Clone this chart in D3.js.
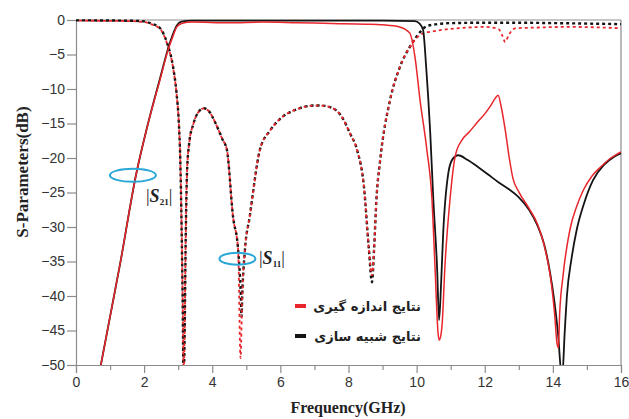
<!DOCTYPE html>
<html><head><meta charset="utf-8">
<script src="https://cdn.jsdelivr.net/npm/d3@7"></script>
<style>body{margin:0;background:#fff}svg{display:block}</style>
</head><body><svg id="c" width="629" height="419"></svg>
<script>
// ---- data ----
const xTicks = [0,2,4,6,8,10,12,14,16];
const xMinor = [1,3,5,7,9,11,13,15];
const yTicks = [0,-5,-10,-15,-20,-25,-30,-35,-40,-45,-50];

const s21Sim = [[0.73,-50],[1.0,-43],[1.3,-35.2],[1.76,-22.5],[2.1,-15.3],[2.47,-8.4],[2.7,-4.2],[2.85,-2.0],[2.96,-0.8],[3.1,-0.25],[3.4,-0.1],[5,-0.1],[7,-0.1],[9,-0.1],[9.95,-0.15],[10.08,-0.5],[10.19,-1.45],[10.28,-6.8],[10.4,-16.4],[10.49,-26],[10.6,-35.8],[10.66,-43.5],[10.72,-38],[10.78,-30.9],[10.93,-22.2],[11.05,-20.2],[11.22,-19.6],[11.5,-20.3],[11.8,-21.3],[12.1,-22.4],[12.4,-23.5],[12.7,-24.5],[13.0,-25.7],[13.3,-27.5],[13.55,-29.8],[13.75,-32.6],[13.92,-36.7],[14.05,-41],[14.15,-45.4],[14.27,-52],[14.35,-45],[14.41,-40.1],[14.55,-34.5],[14.7,-30.4],[14.9,-26.8],[15.18,-23.2],[15.5,-21],[15.8,-19.8],[16,-19.3]];

const s21Meas = [[0.73,-50],[1.0,-43],[1.3,-35.2],[1.76,-22.5],[2.1,-15.3],[2.47,-8.6],[2.7,-4.4],[2.85,-2.3],[2.96,-1.0],[3.1,-0.5],[3.4,-0.3],[4.5,-0.4],[5.5,-0.3],[6.5,-0.4],[7.5,-0.5],[8.5,-0.6],[9.0,-0.7],[9.5,-1.0],[9.8,-1.9],[9.95,-5.3],[10.1,-11.6],[10.3,-18.8],[10.45,-26],[10.54,-35.8],[10.63,-45.4],[10.66,-46.4],[10.7,-46],[10.75,-44],[10.83,-35.8],[10.98,-26],[11.13,-19.8],[11.33,-17.4],[11.55,-16.2],[11.77,-14.9],[12.0,-13.6],[12.15,-12.6],[12.3,-11.4],[12.39,-10.9],[12.48,-12.5],[12.6,-15.9],[12.72,-20],[12.83,-23.0],[13.0,-24.9],[13.3,-27.3],[13.55,-29.6],[13.72,-32.2],[13.85,-35],[13.95,-38],[14.05,-42.5],[14.12,-46.8],[14.16,-47.5],[14.2,-42.5],[14.3,-37],[14.5,-30.4],[14.7,-27],[14.9,-24.6],[15.15,-22.6],[15.4,-21.3],[15.7,-20],[16,-19.1]];

const s11Sim = [[0,-0.05],[1.5,-0.1],[2.0,-0.2],[2.2,-0.5],[2.47,-1.2],[2.67,-3.3],[2.85,-6.8],[2.95,-10.5],[3.02,-15],[3.06,-20],[3.1,-30],[3.13,-40],[3.16,-52],[3.19,-45],[3.22,-32],[3.26,-22],[3.32,-18],[3.45,-15],[3.6,-13.3],[3.75,-12.8],[3.9,-13.2],[4.1,-15],[4.3,-17.3],[4.43,-18.8],[4.61,-28.5],[4.76,-33.3],[4.84,-40],[4.86,-43],[4.88,-40],[4.96,-33.3],[5.1,-28.5],[5.4,-18.8],[5.7,-16],[6.0,-14.3],[6.5,-12.9],[7.0,-12.4],[7.2,-12.4],[7.5,-12.7],[7.8,-14],[8.05,-16.5],[8.25,-18.8],[8.45,-24],[8.6,-33.3],[8.69,-38],[8.75,-33.3],[8.82,-26],[8.93,-20.3],[9.22,-11.6],[9.51,-6.8],[9.8,-3.9],[10.0,-2.4],[10.3,-0.9],[10.6,-0.6],[11,-0.45],[12,-0.4],[13,-0.4],[14,-0.45],[16,-0.6]];

const s11Meas = [[0,-0.1],[1.5,-0.15],[2.0,-0.3],[2.2,-0.6],[2.47,-1.3],[2.67,-3.4],[2.85,-6.9],[2.95,-10.6],[3.02,-15],[3.06,-20],[3.1,-30],[3.13,-40],[3.16,-52],[3.19,-45],[3.22,-32],[3.26,-22],[3.32,-18],[3.45,-15],[3.6,-13.3],[3.75,-12.8],[3.9,-13.2],[4.1,-15],[4.3,-17.3],[4.43,-18.8],[4.61,-28.5],[4.76,-33.3],[4.83,-49],[4.88,-40],[4.96,-33.3],[5.1,-28.5],[5.4,-18.8],[5.7,-16],[6.0,-14.3],[6.5,-12.9],[7.0,-12.4],[7.2,-12.4],[7.5,-12.7],[7.8,-14],[8.05,-16.5],[8.25,-18.8],[8.45,-24],[8.6,-33.3],[8.69,-37],[8.75,-33.3],[8.82,-26],[8.93,-20.3],[9.22,-11.6],[9.51,-6.8],[9.8,-3.9],[10.0,-2.6],[10.2,-1.9],[10.4,-1.7],[10.8,-1.4],[11.5,-1.1],[12.0,-1.0],[12.4,-1.3],[12.52,-2.3],[12.6,-3.2],[12.7,-2.2],[12.9,-1.2],[13.5,-1.1],[14.5,-1.0],[15.5,-1.1],[16,-1.2]];

const legendLabels = ["نتایج اندازه گیری","نتایج شبیه سازی"];
const xTitle = "Frequency(GHz)";
const yTitle = "S-Parameters(dB)";

// ---- drawing ----
const svg = d3.select("#c");
svg.append("rect").attr("width",629).attr("height",419).attr("fill","#fff");
const x = d3.scaleLinear().domain([0,16]).range([76,621]);
const y = d3.scaleLinear().domain([-50,0]).range([365,20]);
const RED = "#e8262c", BLK = "#141414", AX = "#8c8c8c";

svg.append("defs").append("clipPath").attr("id","clip")
  .append("rect").attr("x",76).attr("y",18).attr("width",545).attr("height",347);

// frame
svg.append("line").attr("x1",76).attr("x2",621).attr("y1",20).attr("y2",20).attr("stroke",AX).attr("stroke-width",1.2);
svg.append("line").attr("x1",621).attr("x2",621).attr("y1",20).attr("y2",365).attr("stroke",AX).attr("stroke-width",1.2);

const gy = svg.append("g").attr("transform","translate(76,0)")
  .call(d3.axisLeft(y).tickValues(yTicks).tickSize(9).tickPadding(2).tickFormat(d3.format("d")));
const gx = svg.append("g").attr("transform","translate(0,365)")
  .call(d3.axisBottom(x).tickValues(xTicks).tickSize(8).tickPadding(4).tickFormat(d3.format("d")));
const gxm = svg.append("g").attr("transform","translate(0,365)")
  .call(d3.axisBottom(x).tickValues(xMinor).tickSize(5).tickFormat(""));
gxm.select(".domain").remove();
[gy,gx,gxm].forEach(g=>{
  g.selectAll(".domain,line").attr("stroke",AX).attr("stroke-width",1.2);
  g.selectAll("text").attr("fill","#333").style("font-family","'Liberation Sans', Arial, sans-serif").style("font-size","14px");
});

const line = d3.line().x(d=>x(d[0])).y(d=>y(d[1])).curve(d3.curveMonotoneX);
const plot = svg.append("g").attr("clip-path","url(#clip)");
plot.append("path").datum(s11Sim).attr("d",line).attr("fill","none").attr("stroke",BLK).attr("stroke-width",2.4).attr("stroke-dasharray","3,3");
plot.append("path").datum(s11Meas).attr("d",line).attr("fill","none").attr("stroke",RED).attr("stroke-width",1.8).attr("stroke-dasharray","3,3").attr("stroke-dashoffset",3);
plot.append("path").datum(s21Sim).attr("d",line).attr("fill","none").attr("stroke",BLK).attr("stroke-width",1.8);
plot.append("path").datum(s21Meas).attr("d",line).attr("fill","none").attr("stroke",RED).attr("stroke-width",1.5);

// annotations
const CY = "#2aa7d6";
svg.append("ellipse").attr("cx",x(1.67)).attr("cy",y(-22.5)).attr("rx",23).attr("ry",6.5).attr("fill","none").attr("stroke",CY).attr("stroke-width",2);
svg.append("ellipse").attr("cx",x(4.74)).attr("cy",y(-34.6)).attr("rx",18).attr("ry",6).attr("fill","none").attr("stroke",CY).attr("stroke-width",2);
function sLabel(px,py,sub){
  const t = svg.append("text").attr("x",px).attr("y",py).attr("fill","#222")
    .style("font-family","'Liberation Serif', 'Times New Roman', serif").style("font-weight","bold").style("font-size","18px");
  t.append("tspan").text("|").style("font-weight","normal");
  t.append("tspan").text("S").style("font-style","italic");
  t.append("tspan").text(sub).attr("dy",3).style("font-size","9px");
  t.append("tspan").text("|").attr("dy",-3).style("font-weight","normal");
}
sLabel(146,202,"21");
sLabel(259,264,"11");

// legend
[[RED,306,legendLabels[0]],[BLK,336,legendLabels[1]]].forEach(([c,yy,lab])=>{
  svg.append("line").attr("x1",295).attr("x2",306).attr("y1",yy).attr("y2",yy).attr("stroke",c).attr("stroke-width",4);
  svg.append("text").attr("x",421).attr("y",yy+5).attr("text-anchor","end").attr("fill","#222")
    .style("font-family","'DejaVu Sans', 'Noto Sans', sans-serif").style("font-weight","bold").style("font-size","13px").text(lab);
});

// axis titles
svg.append("text").attr("x",348).attr("y",413).attr("text-anchor","middle").attr("fill","#222")
  .style("font-family","'Liberation Serif', 'Times New Roman', serif").style("font-weight","bold").style("font-size","16px").text(xTitle);
svg.append("text").attr("transform","translate(28,172) rotate(-90)").attr("text-anchor","middle").attr("fill","#222")
  .style("font-family","'Liberation Serif', 'Times New Roman', serif").style("font-weight","bold").style("font-size","17px").text(yTitle);
</script></body></html>
